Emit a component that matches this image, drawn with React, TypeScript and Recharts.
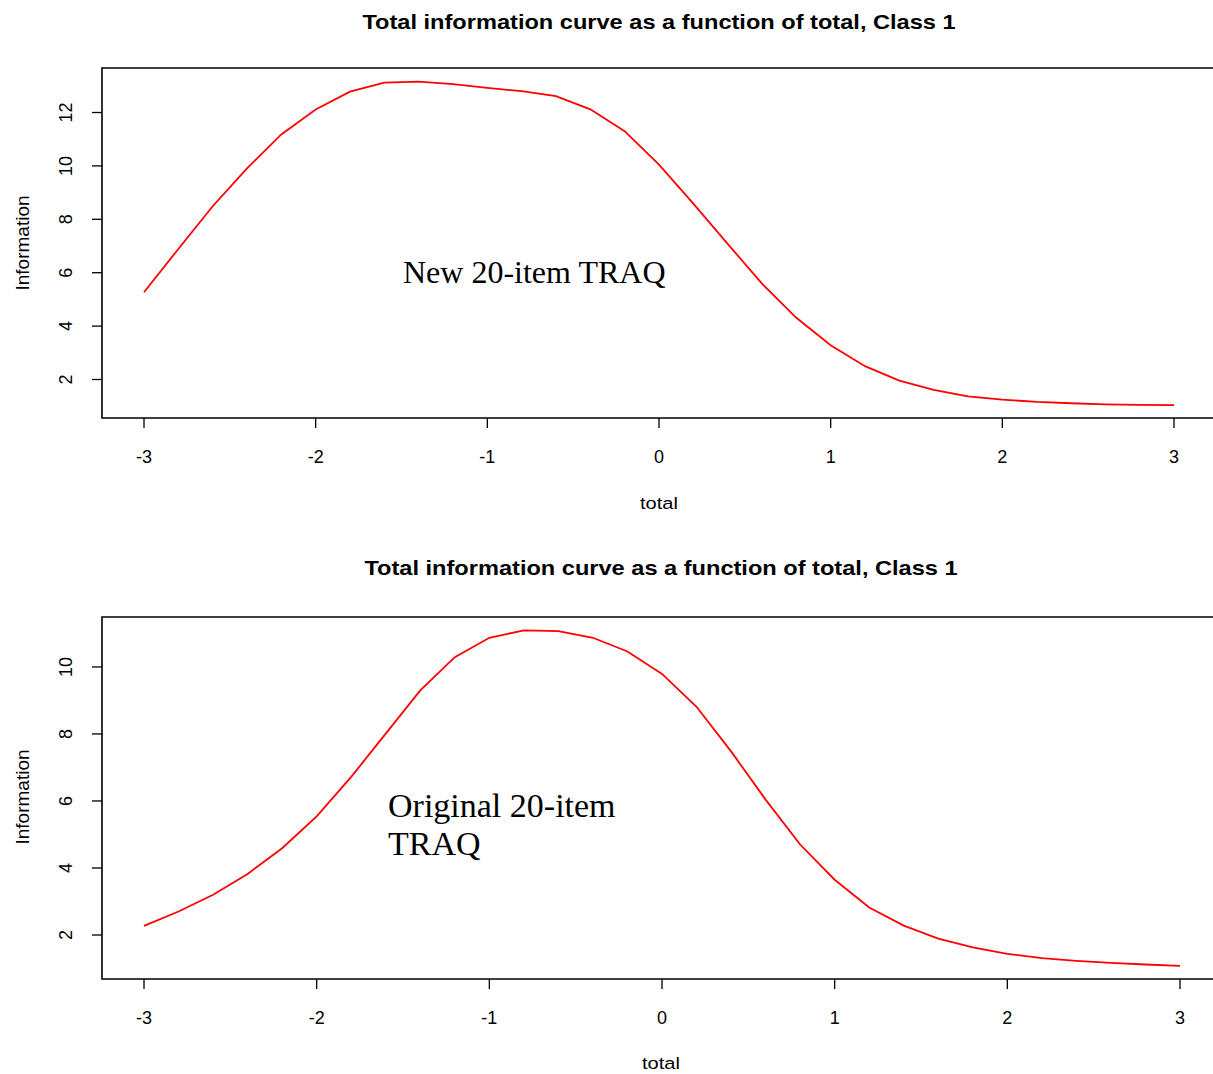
import React from "react";
import { LineChart, Line, XAxis, YAxis, ReferenceArea } from "recharts";

// theta grid (total)
const totals = [
  -3, -2.8, -2.6, -2.4, -2.2, -2, -1.8, -1.6, -1.4, -1.2, -1, -0.8, -0.6, -0.4, -0.2, 0,
  0.2, 0.4, 0.6, 0.8, 1, 1.2, 1.4, 1.6, 1.8, 2, 2.2, 2.4, 2.6, 2.8, 3,
];

// New 20-item TRAQ information
const infoNew = [
  5.27, 6.89, 8.49, 9.91, 11.18, 12.11, 12.78, 13.12, 13.16, 13.06, 12.92, 12.8, 12.61, 12.12, 11.3, 10.05,
  8.59, 7.08, 5.59, 4.31, 3.28, 2.5, 1.96, 1.61, 1.37, 1.25, 1.16, 1.11, 1.07, 1.05, 1.04,
];

// Original 20-item TRAQ information
const infoOriginal = [
  2.27, 2.7, 3.2, 3.82, 4.59, 5.54, 6.72, 8.01, 9.3, 10.29, 10.87, 11.09, 11.07, 10.87, 10.46, 9.79,
  8.81, 7.48, 6.04, 4.7, 3.65, 2.82, 2.28, 1.89, 1.63, 1.44, 1.31, 1.23, 1.17, 1.12, 1.08,
];

const xTicks = [-3, -2, -1, 0, 1, 2, 3];
const yTicksTop = [2, 4, 6, 8, 10, 12];
const yTicksBottom = [2, 4, 6, 8, 10];

const titleText = "Total information curve as a function of total, Class 1";
const xLabel = "total";
const yLabel = "Information";
const noteTop = "New 20-item TRAQ";
const noteBottomLine1 = "Original 20-item";
const noteBottomLine2 = "TRAQ";

const topData = totals.map((t, i) => ({ total: t, info: infoNew[i] }));
const bottomData = totals.map((t, i) => ({ total: t, info: infoOriginal[i] }));

const SANS = "'Liberation Sans', Arial, Helvetica, sans-serif";
const SERIF = "'Liberation Serif', 'Times New Roman', serif";

const makeXTick = (baseline: number) => (props: any) => {
  const { x, payload } = props;
  return (
    <text x={x} y={baseline} textAnchor="middle" fontSize={18} fontFamily={SANS} fill="#000">
      {String(payload.value)}
    </text>
  );
};

const YTick = (props: any) => {
  const { y, payload } = props;
  return (
    <text
      transform={`translate(72, ${y}) rotate(-90)`}
      textAnchor="middle"
      fontSize={18}
      fontFamily={SANS}
      fill="#000"
    >
      {String(payload.value)}
    </text>
  );
};

type PanelProps = {
  data: { total: number; info: number }[];
  width: number;
  height: number;
  margin: { top: number; right: number; bottom: number; left: number };
  xDomain: [number, number];
  yDomain: [number, number];
  yTicks: number[];
  tickBaseline: number;
};

const Panel = ({ data, width, height, margin, xDomain, yDomain, yTicks, tickBaseline }: PanelProps) => (
  <LineChart width={width} height={height} data={data} margin={margin}>
    <XAxis
      dataKey="total"
      type="number"
      domain={xDomain}
      ticks={xTicks}
      allowDataOverflow
      axisLine={false}
      tickLine={{ stroke: "#000", strokeWidth: 1.3 }}
      tickSize={10}
      height={60}
      tick={makeXTick(tickBaseline)}
      interval={0}
    />
    <YAxis
      type="number"
      domain={yDomain}
      ticks={yTicks}
      allowDataOverflow
      axisLine={false}
      tickLine={{ stroke: "#000", strokeWidth: 1.3 }}
      tickSize={10}
      width={102}
      tick={YTick}
      interval={0}
    />
    <ReferenceArea
      x1={xDomain[0]}
      x2={xDomain[1]}
      y1={yDomain[0]}
      y2={yDomain[1]}
      fill="none"
      fillOpacity={0}
      stroke="#000"
      strokeWidth={1.6}
      ifOverflow="visible"
    />
    <Line
      type="linear"
      dataKey="info"
      stroke="#ff0000"
      strokeWidth={1.8}
      dot={false}
      isAnimationActive={false}
    />
  </LineChart>
);

export default function App() {
  return (
    <div
      style={{
        position: "absolute",
        left: 0,
        top: 0,
        width: 1213,
        height: 1074,
        overflow: "hidden",
        background: "#fff",
      }}
    >
      <div style={{ position: "absolute", left: 0, top: 0 }}>
        <Panel
          data={topData}
          width={1260}
          height={545}
          margin={{ top: 68, right: 44, bottom: 67, left: 0 }}
          xDomain={[-3.2447, 3.2447]}
          yDomain={[0.558, 13.667]}
          yTicks={yTicksTop}
          tickBaseline={463}
        />
      </div>
      <div style={{ position: "absolute", left: 0, top: 545 }}>
        <Panel
          data={bottomData}
          width={1266}
          height={529}
          margin={{ top: 72, right: 44, bottom: 35, left: 0 }}
          xDomain={[-3.2433, 3.2433]}
          yDomain={[0.687, 11.49]}
          yTicks={yTicksBottom}
          tickBaseline={479}
        />
      </div>
      <svg
        width={1213}
        height={1074}
        style={{ position: "absolute", left: 0, top: 0, pointerEvents: "none" }}
      >
        <text
          transform="translate(659, 29) scale(1.18, 1)"
          textAnchor="middle"
          fontSize={20}
          fontWeight="bold"
          fontFamily={SANS}
          fill="#000"
        >
          {titleText}
        </text>
        <text
          transform="translate(661, 575) scale(1.18, 1)"
          textAnchor="middle"
          fontSize={20}
          fontWeight="bold"
          fontFamily={SANS}
          fill="#000"
        >
          {titleText}
        </text>
        <text
          transform="translate(659, 509) scale(1.18, 1)"
          textAnchor="middle"
          fontSize={17}
          fontFamily={SANS}
          fill="#000"
        >
          {xLabel}
        </text>
        <text
          transform="translate(661, 1069) scale(1.18, 1)"
          textAnchor="middle"
          fontSize={17}
          fontFamily={SANS}
          fill="#000"
        >
          {xLabel}
        </text>
        <text
          transform="translate(29, 243) rotate(-90)"
          textAnchor="middle"
          fontSize={19}
          fontFamily={SANS}
          fill="#000"
        >
          {yLabel}
        </text>
        <text
          transform="translate(29, 797) rotate(-90)"
          textAnchor="middle"
          fontSize={19}
          fontFamily={SANS}
          fill="#000"
        >
          {yLabel}
        </text>
        <text x={403} y={283} fontSize={32} fontFamily={SERIF} fill="#000">
          {noteTop}
        </text>
        <text x={388} y={817} fontSize={34} fontFamily={SERIF} fill="#000">
          {noteBottomLine1}
        </text>
        <text x={388} y={855} fontSize={34} fontFamily={SERIF} fill="#000">
          {noteBottomLine2}
        </text>
      </svg>
    </div>
  );
}
